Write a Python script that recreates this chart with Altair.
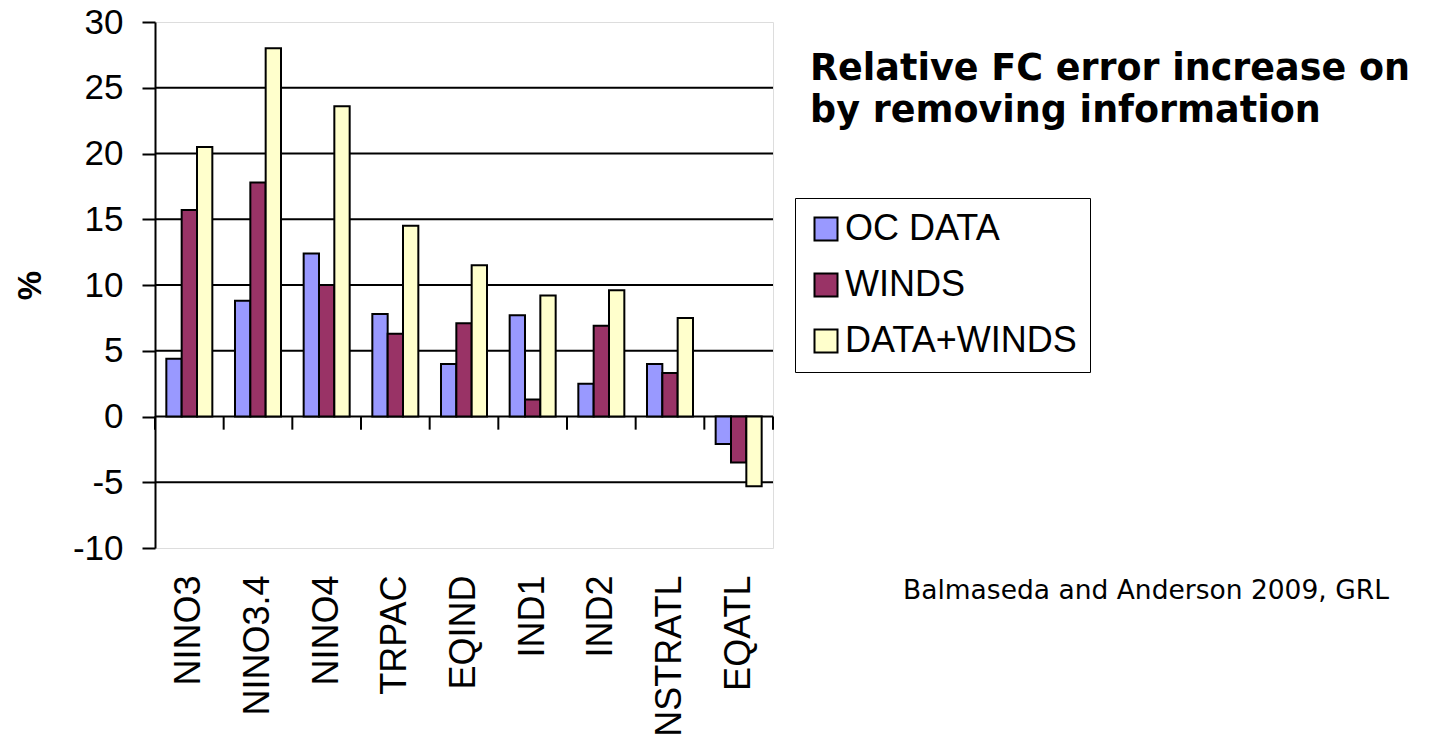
import altair as alt
import pandas as pd

# Regions and the three experiment series (% relative forecast error increase)
regions = ["NINO3", "NINO3.4", "NINO4", "TRPAC", "EQIND", "IND1", "IND2", "NSTRATL", "EQATL"]
oc_data = [4.4, 8.8, 12.4, 7.8, 4.0, 7.7, 2.5, 4.0, -2.1]
winds = [15.7, 17.8, 10.0, 6.3, 7.1, 1.3, 6.9, 3.3, -3.5]
data_winds = [20.5, 28.0, 23.6, 14.5, 11.5, 9.2, 9.6, 7.5, -5.3]

series = ["OC DATA", "WINDS", "DATA+WINDS"]
colors = ["#9999FF", "#993366", "#FFFFCC"]

y_ticks = [-10, -5, 0, 5, 10, 15, 20, 25, 30]
grid_values = [-5, 0, 5, 10, 15, 20, 25]

title_lines = ["Relative FC error increase on", "by removing information"]
citation = "Balmaseda and Anderson 2009, GRL"

rows = []
for i, r in enumerate(regions):
    for s, vals in zip(series, [oc_data, winds, data_winds]):
        rows.append({"region": r, "series": s, "value": vals[i]})
df = pd.DataFrame(rows)

W, H = 618, 526
y_scale = alt.Scale(domain=[y_ticks[0], y_ticks[-1]], nice=False)
y_axis = alt.Axis(
    values=y_ticks, title="%", grid=False,
    labelExpr="'' + datum.value",
    domainColor="black", domainWidth=2,
    tickColor="black", tickWidth=2, tickSize=13,
    labelFont="Liberation Sans", labelFontSize=35, labelColor="black", labelPadding=19,
    titleFont="Liberation Sans", titleFontWeight="bold", titleFontSize=33, titleColor="black",
    titleAngle=-90, titleX=-125, titleY=263, titleAlign="center", titleBaseline="middle",
)

# horizontal gridlines
grid = alt.Chart(pd.DataFrame({"g": grid_values})).mark_rule(
    color="black", strokeWidth=2
).encode(y=alt.Y("g:Q", scale=y_scale, axis=y_axis))

bars = alt.Chart(df).mark_bar(stroke="black", strokeWidth=2).encode(
    x=alt.X(
        "region:N", sort=regions,
        scale=alt.Scale(paddingInner=0.33, paddingOuter=0.165),
        axis=alt.Axis(
            title=None, labelAngle=-90, domain=False, ticks=False, tickSize=0,
            labelPadding=27, labelFontSize=36, labelFont="Liberation Sans",
            labelColor="black",
        ),
    ),
    xOffset=alt.XOffset("series:N", sort=series, scale=alt.Scale(paddingInner=0, paddingOuter=0)),
    y=alt.Y("value:Q", scale=y_scale, axis=y_axis),
    color=alt.Color(
        "series:N", sort=series,
        scale=alt.Scale(domain=series, range=colors),
        legend=alt.Legend(
            title=None, orient="none", legendX=640, legendY=176, direction="vertical",
            symbolType="square", symbolSize=529, symbolStrokeColor="black",
            symbolStrokeWidth=2, symbolOpacity=1,
            labelFontSize=36, labelFont="Liberation Sans", labelColor="black",
            labelOffset=1, labelLimit=0, rowPadding=20, padding=13,
            strokeColor="black",
        ),
    ),
)

# category separator ticks hanging below the zero line
bounds = list(range(len(regions) + 1))
ticks = alt.Chart(pd.DataFrame({"b": bounds})).mark_rule(color="black", strokeWidth=2).encode(
    x=alt.X("b:Q", scale=alt.Scale(domain=[0, len(regions)], nice=False, zero=False), axis=None),
    y=alt.Y(datum=0, scale=y_scale, axis=y_axis),
    y2=alt.Y2(datum=-1),
)

title = alt.Chart(pd.DataFrame({"t": [0]})).mark_text(
    text=title_lines, align="left", baseline="alphabetic",
    font="DejaVu Sans", fontWeight="bold", fontSize=36.5, lineHeight=42, color="black",
).encode(x=alt.value(655), y=alt.value(58))

cite = alt.Chart(pd.DataFrame({"t": [0]})).mark_text(
    text=citation, align="left", baseline="alphabetic",
    font="DejaVu Sans", fontSize=26.5, color="black",
).encode(x=alt.value(748), y=alt.value(577))

chart = (
    alt.layer(grid, bars, ticks, title, cite)
    .resolve_scale(x="independent")
    .properties(
        width=W, height=H,
        padding={"left": 155, "top": 22, "right": 662, "bottom": 193},
        autosize=alt.AutoSizeParams(type="none"),
    )
    .configure_view(stroke="#808080", strokeWidth=2)
    .configure_legend(strokeWidth=2)
    .configure(background="white")
)

chart.save("out.html", embed_options={"renderer": "svg", "actions": False})
